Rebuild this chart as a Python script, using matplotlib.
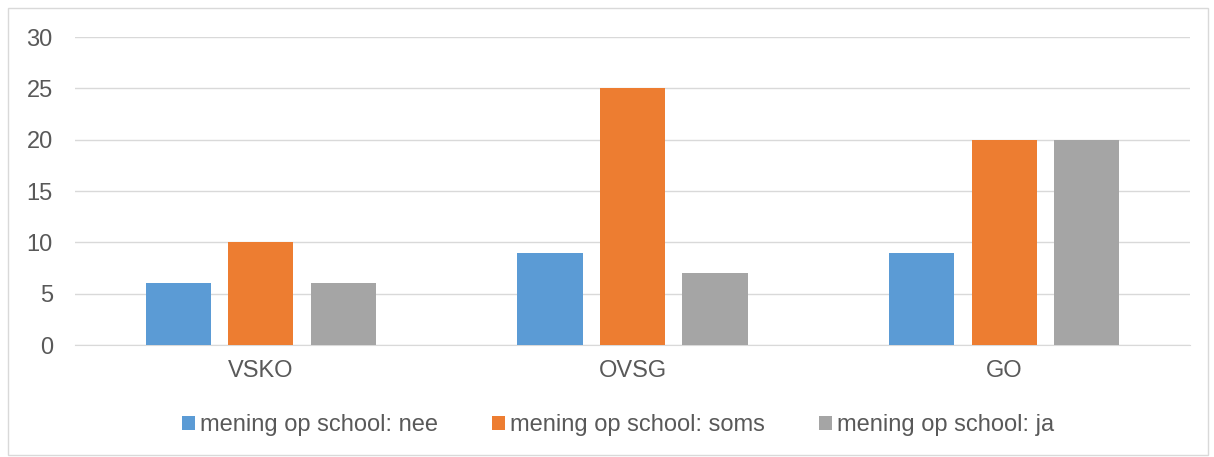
import matplotlib.pyplot as plt
import numpy as np
from matplotlib.patches import Rectangle

plt.rcParams['font.family'] = ['Liberation Sans', 'DejaVu Sans']

categories = ["VSKO", "OVSG", "GO"]
series_names = ["mening op school: nee", "mening op school: soms", "mening op school: ja"]
nee = [6, 9, 9]
soms = [10, 25, 20]
ja = [6, 7, 20]
colors = ["#5B9BD5", "#ED7D31", "#A5A5A5"]

fig = plt.figure(figsize=(12.14, 4.57), dpi=100)
ax = fig.add_axes([75/1214, 1-345/457, 1115/1214, 308/457])

x = np.arange(len(categories))
w = 0.175
off = 0.222
for i, (vals, name) in enumerate(zip([nee, soms, ja], series_names)):
    ax.bar(x + (i - 1) * off, vals, w, color=colors[i], label=name, zorder=3)

ax.set_xlim(-0.5, 2.5)
ax.set_ylim(0, 30)
ax.set_yticks(range(0, 31, 5))
ax.set_xticks(x)
ax.set_xticklabels(categories)
ax.yaxis.grid(True, color="#D9D9D9", linewidth=1, zorder=0)
for s in ["top", "right", "left"]:
    ax.spines[s].set_visible(False)
ax.spines["bottom"].set_color("#D9D9D9")
ax.tick_params(axis="both", length=0, labelsize=17, colors="#595959")
ax.tick_params(axis="x", pad=11)
ax.tick_params(axis="y", pad=16)

# legend sits a bit left of the plot centre, like the original
ax.legend(loc="center", bbox_to_anchor=(0.487, -0.26), ncol=3, frameon=False,
          fontsize=17, handlelength=0.55, handleheight=0.55, handletextpad=0.2,
          columnspacing=2.3, labelcolor="#595959")

fig.patches.append(Rectangle((8/1214, 2/457), 1200/1214, 447/457, transform=fig.transFigure,
                             fill=False, edgecolor="#D9D9D9", linewidth=1))

fig.savefig("out.png", dpi=100)
